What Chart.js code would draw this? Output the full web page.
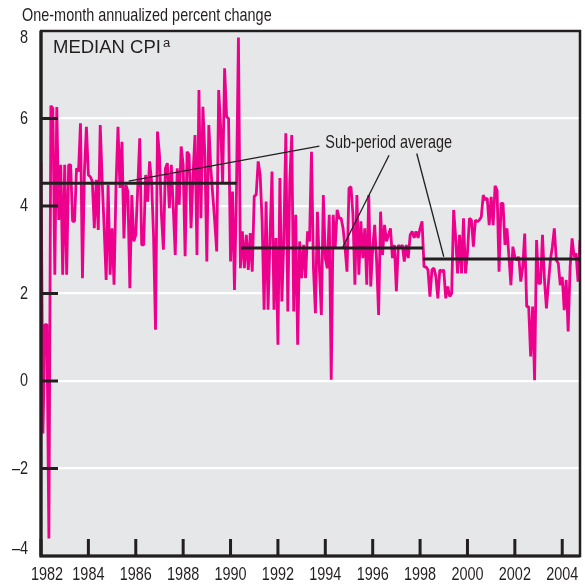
<!DOCTYPE html>
<html><head><meta charset="utf-8">
<script src="https://cdn.jsdelivr.net/npm/chart.js@4.4.0/dist/chart.umd.min.js"></script>
<style>html,body{margin:0;padding:0;background:#fff;}#wrap{position:relative;width:585px;height:586px;}</style>
</head><body><div id="wrap"><canvas id="c" width="585" height="586"></canvas></div>
<script>
// ---- data (one-month annualized percent change, monthly from Jan 1982) ----
const startYear = 1982;
const medianCpi1982 = [
5.02,-1.2,1.29,1.29,-3.6,6.29,6.23,2.43,6.26,3.68,
4.94,2.43,4.94,2.43,4.94,4.94,3.65,3.65,4.86,4.79,
5.89,2.35,4.79,5.81,4.71,4.67,4.56,3.49,4.60,3.45,
5.85,4.56,3.49,2.31,4.48,2.43,3.49,2.20,4.48,5.81,
4.41,5.47,3.26,4.48,4.33,2.12,4.25,3.19,3.34,4.41,
5.55,3.11,3.11,4.71,4.10,5.02,4.56,3.34,1.17,5.70,
5.17,3.80,3.00,4.86,4.98,3.95,4.94,3.95,2.88,4.86,
4.03,5.36,4.94,2.85,5.24,5.17,3.49,4.71,5.62,2.88,
6.65,3.72,6.27,5.17,2.73,5.85,4.86,4.25,3.65,2.96,
6.65,5.78,4.52,7.15,6.04,6.00,2.73];
const medianCpi1990 = [
4.33,2.08,4.33,7.85,2.58,3.42,2.58,3.34,2.54,3.38,
2.50,4.22,4.26,5.02,4.71,3.65,1.63,4.10,1.63,3.27,
4.79,1.63,3.27,0.83,4.64,1.82,3.27,5.66,1.59,4.56,
5.62,1.59,3.80,0.83,3.19,2.35,3.11,2.35,3.42,3.19,
5.24,2.58,1.55,3.87,2.58,1.51,4.25,2.81,2.58,3.80,
0.03,3.80,3.04,3.91,3.72,3.72,3.49,3.04,2.50,4.41,
4.44,3.80,2.20,4.25,2.43,3.65,2.81,3.49,2.20,4.25,
2.16,3.04,3.57,2.73,1.51,3.87,2.88,3.57,3.19,3.34,
3.49,2.81,3.11,2.05,3.11,3.04,3.11,2.73,3.11,2.81,
3.34,3.42,3.27,3.42,3.27,3.49,3.65];
const medianCpi1998 = [
2.61,2.61,2.54,1.93,2.54,2.58,2.39,1.89,2.54,2.50,
2.54,1.89,2.16,1.93,2.00,3.91,3.30,2.46,3.34,2.46,
3.72,2.46,2.92,3.72,3.68,3.07,3.68,3.64,3.68,3.75,
4.25,4.14,4.18,3.56,4.21,3.56,4.46,4.36,2.50,4.06,
4.06,3.11,3.49,2.84,2.19,3.07,2.84,2.76,2.84,2.27,
2.61,3.37,1.70,1.70,0.56,1.70,0.02,3.22,2.23,2.23,
3.34,2.31,1.66,2.23,2.76,3.07,3.49,2.76,2.69,2.19,
2.38,1.62,2.31,1.13,2.61,3.26,2.84,2.92,2.27,3.22];
const subPeriodAverage = [4.52, 3.04, 2.79];
const subPeriodStart = [1982.0, 1990.44, 1998.12];
const subPeriodEnd = [1990.26, 1998.12, 2004.75];
const xTickYears = [1982,1984,1986,1988,1990,1992,1994,1996,1998,2000,2002,2004];
const yTickValues = [-4,-2,0,2,4,6,8];
const yAxisTitle = 'One-month annualized percent change';
const panelTitle = 'MEDIAN CPI';
const panelNote = 'a';
const calloutText = 'Sub-period average';
const calloutTextAt = [1994.0, 5.44];
const calloutLines = [[1985.70,4.57,1993.75,5.37],[1994.72,3.04,1996.69,5.16],[1997.86,5.20,1999.0,2.84]];

const values = medianCpi1982.concat(medianCpi1990, medianCpi1998);
const cpiPoints = values.map((v,i)=>({x: startYear + i/12, y: v}));
const avgDatasets = subPeriodAverage.map((a,k)=>({
  label:'avg'+k, data:[{x:subPeriodStart[k],y:a},{x:subPeriodEnd[k],y:a}],
  borderColor:'#231f20', borderWidth:3, pointRadius:0, order:0, borderCapStyle:'butt'
}));

const INK = '#231f20';
const FAMILY = '"Liberation Sans",Arial,sans-serif';
function txt(ctx, s, x, y, size, sx, align){
  ctx.save();
  ctx.font = size+'px '+FAMILY;
  ctx.fillStyle = INK;
  ctx.textBaseline = 'middle';
  ctx.translate(x,y); ctx.scale(sx,1);
  ctx.textAlign = align;
  ctx.fillText(s,0,0);
  ctx.restore();
}
const CS = 19, SX = 0.76;

const decor = {
  id:'decor',
  beforeDraw(chart){
    const {ctx, chartArea:a} = chart;
    ctx.save(); ctx.fillStyle = '#e6e7e8';
    ctx.fillRect(a.left,a.top,a.right-a.left,a.bottom-a.top); ctx.restore();
  },
  afterDatasetsDraw(chart){
    const {ctx, chartArea:a, scales:{x,y}} = chart;
    ctx.save();
    ctx.strokeStyle = INK; ctx.lineWidth = 1.3;
    calloutLines.forEach(l=>{
      ctx.beginPath();
      ctx.moveTo(x.getPixelForValue(l[0]), y.getPixelForValue(l[1]));
      ctx.lineTo(x.getPixelForValue(l[2]), y.getPixelForValue(l[3]));
      ctx.stroke();
    });
    ctx.strokeStyle = INK; ctx.lineWidth = 2.5;
    ctx.strokeRect(a.left, a.top, a.right-a.left, a.bottom-a.top);
    ctx.lineWidth = 3.2;
    ctx.beginPath(); ctx.moveTo(a.left, a.top); ctx.lineTo(a.left, a.bottom); ctx.lineTo(a.right, a.bottom); ctx.stroke();
    ctx.lineWidth = 3;
    yTickValues.forEach(v=>{
      if (v===-4 || v===8) return;
      const py = y.getPixelForValue(v);
      ctx.beginPath(); ctx.moveTo(a.left, py); ctx.lineTo(a.left+17, py); ctx.stroke();
    });
    xTickYears.forEach(yr=>{
      const px = x.getPixelForValue(yr);
      ctx.beginPath(); ctx.moveTo(px, a.bottom); ctx.lineTo(px, a.bottom-17); ctx.stroke();
    });
    ctx.restore();
    yTickValues.forEach(v=>{
      let py = y.getPixelForValue(v);
      if (v===8) py += 7; if (v===-4) py -= 7;
      txt(ctx, v<0 ? '\u2013'+Math.abs(v) : String(v), 28, py, CS, SX, 'right');
    });
    xTickYears.forEach((yr,i)=>{
      let px = x.getPixelForValue(yr);
      if (i===0) px += 6;
      txt(ctx, String(yr), px, 575, CS, SX, 'center');
    });
    txt(ctx, yAxisTitle, 22, 16, CS, SX, 'left');
    txt(ctx, calloutText, x.getPixelForValue(calloutTextAt[0]), y.getPixelForValue(calloutTextAt[1]), CS, SX, 'left');
    ctx.save();
    ctx.fillStyle = INK; ctx.textBaseline = 'alphabetic'; ctx.textAlign='left';
    ctx.font = '18.5px '+FAMILY;
    ctx.fillText(panelTitle, a.left+12, a.top+22);
    const w = ctx.measureText(panelTitle).width;
    ctx.font = '13px '+FAMILY;
    ctx.fillText(panelNote, a.left+12+w+2, a.top+16);
    ctx.restore();
  }
};

new Chart(document.getElementById('c'), {
  type:'line',
  data:{ datasets:[
    {label:'Median CPI', data:cpiPoints, borderColor:'#ec008c', borderWidth:2.8, pointRadius:0, tension:0, order:1, borderJoinStyle:'bevel'},
    ...avgDatasets
  ]},
  options:{
    responsive:false, animation:false, devicePixelRatio:1,
    layout:{padding:{left:41, top:31, right:5, bottom:30}},
    plugins:{legend:{display:false}, tooltip:{enabled:false}},
    scales:{
      x:{type:'linear', min:1982, max:2004.75,
         ticks:{display:false, stepSize:2, includeBounds:false},
         grid:{display:false, drawTicks:false}, border:{display:false}},
      y:{type:'linear', min:-4, max:8,
         ticks:{display:false, stepSize:2},
         grid:{color:'#ffffff', lineWidth:2.2, drawTicks:false}, border:{display:false}}
    }
  },
  plugins:[decor]
});
</script></body></html>
